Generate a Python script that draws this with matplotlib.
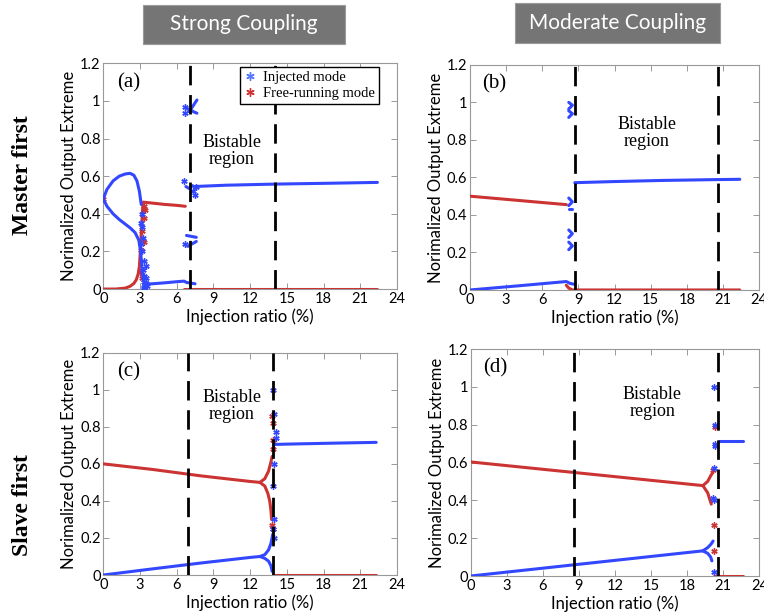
import matplotlib
matplotlib.use("Agg")
import matplotlib.pyplot as plt
from matplotlib.patches import Rectangle
import numpy as np

BLUE = "#3347ff"
RED = "#cc3333"
SANS = "Lato"
SERIF = "Liberation Serif"
ASTER = (6, 2, 0)

# ---- (a) strong coupling, master first ----
a_blue_upper_x = [0, 0.3, 0.8, 1.3, 1.8, 2.2, 2.5, 2.75, 2.95, 3.1]
a_blue_upper_y = [0.48, 0.53, 0.575, 0.60, 0.612, 0.615, 0.605, 0.575, 0.52, 0.45]
a_blue_lower_x = [0, 0.3, 0.8, 1.3, 1.8, 2.2, 2.6, 2.9, 3.05, 3.15, 3.25]
a_blue_lower_y = [0.48, 0.44, 0.40, 0.37, 0.345, 0.325, 0.30, 0.26, 0.20, 0.12, 0.05]
a_blue_low_x = [3.4, 4.0, 5.0, 6.0, 6.6, 6.8, 7.5]
a_blue_low_y = [0.025, 0.028, 0.033, 0.039, 0.042, 0.035, 0.028]
a_blue_flat_x = [7.4, 10, 14, 18, 22.4]
a_blue_flat_y = [0.545, 0.552, 0.558, 0.562, 0.567]
a_blue_bits = [
    ([6.95, 7.2, 7.45, 7.65], [0.943, 0.96, 0.985, 1.005]),
    ([6.8, 7.1, 7.4, 7.65], [0.962, 0.952, 0.942, 0.935]),
    ([6.8, 7.2, 7.6], [0.285, 0.28, 0.275]),
    ([6.9, 7.25, 7.6], [0.227, 0.24, 0.253]),
    ([6.75, 7.0, 7.3], [0.545, 0.535, 0.55]),
]
a_blue_pts_x = [3.15, 3.2, 3.25, 3.2, 3.3, 3.25, 3.35, 3.3, 3.4, 3.3, 3.35, 3.45,
                3.05, 3.5, 3.45, 3.1, 3.55,
                6.6, 6.7, 7.3, 7.5, 7.55, 6.65, 6.7]
a_blue_pts_y = [0.40, 0.33, 0.27, 0.20, 0.15, 0.10, 0.07, 0.04, 0.02, 0.01, 0.005, 0.03,
                0.35, 0.06, 0.12, 0.24, 0.015,
                0.572, 0.97, 0.52, 0.50, 0.545, 0.24, 0.935]
a_red_rise_x = [0, 1.0, 1.8, 2.2, 2.5, 2.7, 2.85, 2.95, 3.0, 3.05, 3.1, 3.15, 3.2, 3.25]
a_red_rise_y = [0, 0, 0.005, 0.015, 0.03, 0.05, 0.08, 0.12, 0.17, 0.23, 0.29, 0.35, 0.41, 0.46]
a_red_upper_x = [3.25, 4, 5, 6, 6.7]
a_red_upper_y = [0.462, 0.457, 0.45, 0.445, 0.44]
a_red_zero_x = [6.6, 22.4]
a_red_zero_y = [0, 0]
a_red_pts_x = [0, 3.0, 3.1, 3.2, 3.3, 3.35, 3.15, 3.3, 3.4]
a_red_pts_y = [0.48, 0.09, 0.21, 0.31, 0.38, 0.44, 0.06, 0.25, 0.42]
a_dash = [7.1, 14.0]

# ---- (b) moderate coupling, master first ----
b_red_x = [0, 8.0]
b_red_y = [0.50, 0.455]
b_blue_low_x = [0, 4, 8.0, 8.3, 8.7]
b_blue_low_y = [0, 0.022, 0.045, 0.035, 0.03]
b_red_zero_x = [8.0, 8.2, 8.5, 22.4]
b_red_zero_y = [0.025, 0.01, 0, 0]
b_blue_flat_x = [8.7, 12, 16, 20, 22.4]
b_blue_flat_y = [0.572, 0.578, 0.584, 0.588, 0.59]
b_blue_bits = [
    ([8.2, 8.5, 8.2], [1.0, 0.985, 0.965]),
    ([8.2, 8.5, 8.2], [0.955, 0.94, 0.92]),
    ([8.2, 8.5, 8.2], [0.49, 0.47, 0.45]),
    ([8.2, 8.5], [0.43, 0.43]),
    ([8.2, 8.5, 8.2], [0.32, 0.30, 0.28]),
    ([8.2, 8.5, 8.2], [0.255, 0.235, 0.215]),
]
b_dash = [8.75, 20.6]

# ---- (c) strong coupling, slave first ----
c_red_x = [0, 4, 8, 12, 12.8]
c_red_y = [0.60, 0.57, 0.535, 0.505, 0.50]
c_red_up_x = [12.8, 13.2, 13.5, 13.7, 13.8]
c_red_up_y = [0.50, 0.52, 0.56, 0.61, 0.64]
c_red_dn_x = [12.8, 13.2, 13.45, 13.6, 13.7, 13.75]
c_red_dn_y = [0.50, 0.48, 0.44, 0.40, 0.35, 0.30]
c_red_pts_x = [13.8, 13.85, 13.9, 13.85, 13.9, 13.8]
c_red_pts_y = [0.86, 0.82, 0.73, 0.68, 0.25, 0.27]
c_blue_x = [0, 4, 8, 12, 12.8]
c_blue_y = [0, 0.033, 0.065, 0.095, 0.10]
c_blue_up_x = [12.8, 13.2, 13.5, 13.7, 13.85]
c_blue_up_y = [0.10, 0.11, 0.135, 0.17, 0.22]
c_blue_dn_x = [12.8, 13.2, 13.5, 13.7, 13.8]
c_blue_dn_y = [0.10, 0.09, 0.075, 0.05, 0.02]
c_blue_pts_x = [13.9, 13.95, 14.1, 14.15, 13.95, 13.9, 13.95, 13.9, 13.95]
c_blue_pts_y = [1.0, 0.87, 0.77, 0.74, 0.6, 0.48, 0.3, 0.25, 0.2]
c_blue_flat_x = [14.0, 16, 19, 22.3]
c_blue_flat_y = [0.705, 0.708, 0.712, 0.716]
c_red_zero_x = [13.9, 22.3]
c_red_zero_y = [0, 0]
c_dash = [6.95, 13.85]

# ---- (d) moderate coupling, slave first ----
d_red_x = [0, 19.3]
d_red_y = [0.603, 0.478]
d_red_up_x = [19.3, 19.7, 19.95, 20.1]
d_red_up_y = [0.478, 0.50, 0.53, 0.545]
d_red_dn_x = [19.3, 19.7, 19.9, 20.0]
d_red_dn_y = [0.478, 0.44, 0.40, 0.38]
d_red_pts_x = [20.3, 20.25, 20.2, 20.15]
d_red_pts_y = [0.79, 0.27, 0.13, 0.56]
d_blue_x = [0, 19.3]
d_blue_y = [0, 0.133]
d_blue_up_x = [19.3, 19.7, 20.0, 20.15]
d_blue_up_y = [0.133, 0.15, 0.17, 0.185]
d_blue_dn_x = [19.3, 19.7, 19.95, 20.05]
d_blue_dn_y = [0.133, 0.12, 0.10, 0.08]
d_blue_pts_x = [20.2, 20.3, 20.35, 20.3, 20.25, 20.2, 20.15, 20.2]
d_blue_pts_y = [1.0, 0.8, 0.70, 0.685, 0.57, 0.40, 0.41, 0.02]
d_blue_flat_x = [20.6, 22.6]
d_blue_flat_y = [0.716, 0.716]
d_red_zero_x = [20.2, 22.6]
d_red_zero_y = [0, 0]
d_dash = [8.6, 20.55]

x_ticks = list(range(0, 25, 3))
y_ticks = [0, 0.2, 0.4, 0.6, 0.8, 1.0, 1.2]
y_tick_labels = ["0", "0.2", "0.4", "0.6", "0.8", "1", "1.2"]

fig = plt.figure(figsize=(7.64, 6.15), dpi=100)

ax_pos = {
    "a": [0.1352, 0.530, 0.3844, 0.367],
    "b": [0.6152, 0.5285, 0.3783, 0.366],
    "c": [0.1352, 0.065, 0.3844, 0.3615],
    "d": [0.616, 0.0634, 0.378, 0.3691],
}


def style_axes(ax, tag, dashes, text_xy):
    ax.set_xlim(0, 24)
    ax.set_ylim(0, 1.2)
    ax.set_xticks(x_ticks)
    ax.set_xticklabels([str(t) for t in x_ticks], fontfamily=SANS, fontsize=10.5)
    ax.set_yticks(y_ticks)
    ax.set_yticklabels(y_tick_labels, fontfamily=SANS, fontsize=10.5)
    ax.tick_params(direction="in", top=True, right=True, length=4,
                   color="#999999", width=0.7, pad=2)
    for sp in ax.spines.values():
        sp.set_color("#999999")
        sp.set_linewidth(0.8)
    ax.set_xlabel("Injection ratio (%)", fontfamily=SANS, fontsize=12, labelpad=2)
    ax.set_ylabel("Norimalized Output Extreme", fontfamily=SANS, fontsize=12, labelpad=2)
    for xd in dashes:
        ax.axvline(xd, color="black", lw=2, dashes=(7, 3.5), zorder=5)
    ax.text(0.085, 0.915, f"({tag})", transform=ax.transAxes, fontfamily=SERIF,
            fontsize=15, ha="center", va="center")
    ax.text(text_xy[0], text_xy[1], "Bistable\nregion", fontfamily=SERIF,
            fontsize=13, ha="center", va="center", linespacing=1.0)


def curve(ax, x, y, color):
    ax.plot(x, y, color=color, lw=2.2, solid_capstyle="round", zorder=3)


def points(ax, x, y, color):
    ax.plot(x, y, ls="none", marker=ASTER, ms=4.5, mew=1.0, color=color, zorder=3)


# (a)
ax = fig.add_axes(ax_pos["a"])
curve(ax, a_red_rise_x, a_red_rise_y, RED)
curve(ax, a_red_upper_x, a_red_upper_y, RED)
curve(ax, a_red_zero_x, a_red_zero_y, RED)
points(ax, a_red_pts_x, a_red_pts_y, RED)
curve(ax, a_blue_upper_x, a_blue_upper_y, BLUE)
curve(ax, a_blue_lower_x, a_blue_lower_y, BLUE)
curve(ax, a_blue_low_x, a_blue_low_y, BLUE)
curve(ax, a_blue_flat_x, a_blue_flat_y, BLUE)
for bx, by in a_blue_bits:
    curve(ax, bx, by, BLUE)
points(ax, a_blue_pts_x, a_blue_pts_y, BLUE)
style_axes(ax, "a", a_dash, (10.5, 0.735))
h1 = ax.plot([], [], ls="none", marker=ASTER, ms=6, mew=1.0, color="#5577ff",
             label="Injected mode")[0]
h2 = ax.plot([], [], ls="none", marker=ASTER, ms=6, mew=1.0, color=RED,
             label="Free-running mode")[0]
leg = ax.legend(handles=[h1, h2], loc="upper right", bbox_to_anchor=(0.94, 0.985),
                prop={"family": SERIF, "size": 10.5}, fancybox=False, framealpha=1,
                edgecolor="black", handlelength=0.8, handletextpad=0.5,
                borderpad=0.3, labelspacing=0.15, borderaxespad=0)
leg.get_frame().set_linewidth(1.0)
leg.set_zorder(6)

# (b)
ax = fig.add_axes(ax_pos["b"])
curve(ax, b_red_x, b_red_y, RED)
curve(ax, b_red_zero_x, b_red_zero_y, RED)
curve(ax, b_blue_low_x, b_blue_low_y, BLUE)
curve(ax, b_blue_flat_x, b_blue_flat_y, BLUE)
for bx, by in b_blue_bits:
    curve(ax, bx, by, BLUE)
style_axes(ax, "b", b_dash, (14.7, 0.835))

# (c)
ax = fig.add_axes(ax_pos["c"])
curve(ax, c_red_x, c_red_y, RED)
curve(ax, c_red_up_x, c_red_up_y, RED)
curve(ax, c_red_dn_x, c_red_dn_y, RED)
curve(ax, c_red_zero_x, c_red_zero_y, RED)
points(ax, c_red_pts_x, c_red_pts_y, RED)
curve(ax, c_blue_x, c_blue_y, BLUE)
curve(ax, c_blue_up_x, c_blue_up_y, BLUE)
curve(ax, c_blue_dn_x, c_blue_dn_y, BLUE)
curve(ax, c_blue_flat_x, c_blue_flat_y, BLUE)
points(ax, c_blue_pts_x, c_blue_pts_y, BLUE)
style_axes(ax, "c", c_dash, (10.5, 0.915))

# (d)
ax = fig.add_axes(ax_pos["d"])
curve(ax, d_red_x, d_red_y, RED)
curve(ax, d_red_up_x, d_red_up_y, RED)
curve(ax, d_red_dn_x, d_red_dn_y, RED)
curve(ax, d_red_zero_x, d_red_zero_y, RED)
points(ax, d_red_pts_x, d_red_pts_y, RED)
curve(ax, d_blue_x, d_blue_y, BLUE)
curve(ax, d_blue_up_x, d_blue_up_y, BLUE)
curve(ax, d_blue_dn_x, d_blue_dn_y, BLUE)
curve(ax, d_blue_flat_x, d_blue_flat_y, BLUE)
points(ax, d_blue_pts_x, d_blue_pts_y, BLUE)
style_axes(ax, "d", d_dash, (15.1, 0.915))

# column headers
W, H = 764, 615
for (x0, x1, y0, y1, label) in [(143, 345, 5, 44, "Strong Coupling"),
                                (515, 720, 3, 43, "Moderate Coupling")]:
    fig.patches.append(Rectangle((x0 / W, 1 - y1 / H), (x1 - x0) / W, (y1 - y0) / H,
                                 transform=fig.transFigure, facecolor="#757575",
                                 edgecolor="#9a9a9a", lw=0.8))
    fig.text((x0 + x1) / 2 / W, 1 - (y0 + y1) / 2 / H, label, color="white",
             fontfamily=SANS, fontsize=15, ha="center", va="center")

# row labels
fig.text(23 / W, 1 - 175 / H, "Master first", rotation=90, fontfamily=SERIF,
         fontweight="bold", fontsize=17, ha="center", va="center")
fig.text(23 / W, 1 - 505 / H, "Slave first", rotation=90, fontfamily=SERIF,
         fontweight="bold", fontsize=17, ha="center", va="center")

fig.savefig("out.png", dpi=100)
